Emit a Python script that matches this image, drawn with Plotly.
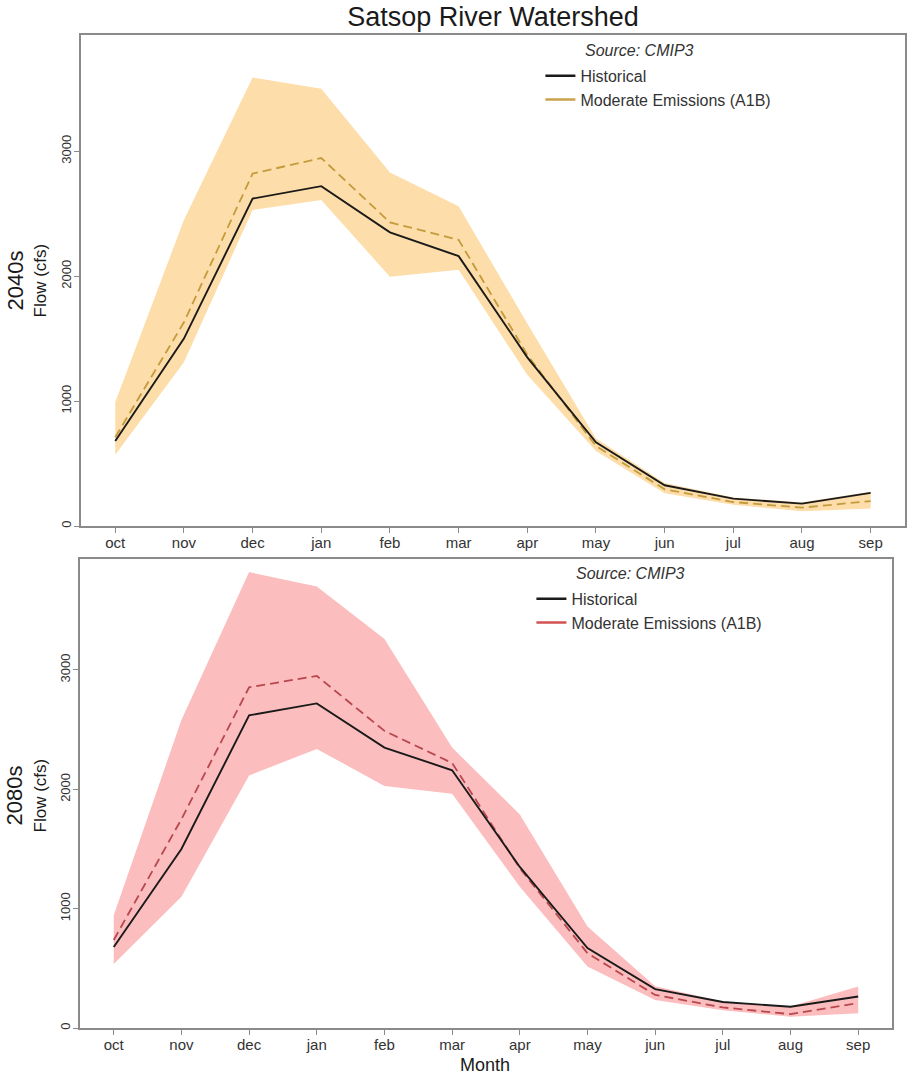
import plotly.graph_objects as go

# Monthly mean flow (cfs), water-year order
months = ["oct", "nov", "dec", "jan", "feb", "mar", "apr", "may", "jun", "jul", "aug", "sep"]

historical = [680, 1500, 2620, 2720, 2350, 2160, 1350, 670, 326, 219, 179, 265]

# 2040s, moderate emissions (A1B)
a1b_2040 = [710, 1630, 2820, 2945, 2430, 2290, 1370, 640, 294, 192, 147, 200]
a1b_2040_hi = [990, 2450, 3590, 3500, 2830, 2560, 1620, 700, 345, 228, 190, 275]
a1b_2040_lo = [570, 1310, 2530, 2610, 1995, 2050, 1210, 600, 262, 170, 118, 140]

# 2080s, moderate emissions (A1B)
a1b_2080 = [738, 1750, 2855, 2950, 2490, 2220, 1340, 627, 278, 173, 117, 209]
a1b_2080_hi = [946, 2580, 3820, 3700, 3260, 2350, 1790, 850, 350, 222, 180, 348]
a1b_2080_lo = [537, 1100, 2116, 2339, 2028, 1963, 1184, 515, 236, 150, 95, 125]

FONT = "Liberation Sans, Arial, Helvetica, sans-serif"
TXT = "#333333"
AX = "#8a8a8a"
W, H = 907, 1078


def px_x(p):
    return p / W


def px_y(p):
    return 1 - p / H


panels = [
    dict(hi=a1b_2040_hi, lo=a1b_2040_lo, mid=a1b_2040, fill="#FDDDA9",
         dash_col="#C49B3C", leg_col="#C9A24C", xa="x", ya="y", legend="legend"),
    dict(hi=a1b_2080_hi, lo=a1b_2080_lo, mid=a1b_2080, fill="#FBBDBD",
         dash_col="#B8474E", leg_col="#D24F52", xa="x2", ya="y2", legend="legend2"),
]

fig = go.Figure()
for p in panels:
    # projection range band
    fig.add_trace(go.Scatter(
        x=months + months[::-1], y=p["hi"] + p["lo"][::-1],
        fill="toself", fillcolor=p["fill"], line=dict(width=0),
        mode="lines", hoverinfo="skip", showlegend=False,
        xaxis=p["xa"], yaxis=p["ya"]))
    # projected mean
    fig.add_trace(go.Scatter(
        x=months, y=p["mid"], mode="lines",
        line=dict(color=p["dash_col"], width=1.8, dash="9px,5px"),
        showlegend=False, xaxis=p["xa"], yaxis=p["ya"]))
    # historical
    fig.add_trace(go.Scatter(
        x=months, y=historical, mode="lines",
        line=dict(color="#1a1a1a", width=1.9),
        showlegend=False, xaxis=p["xa"], yaxis=p["ya"]))
    # legend entries
    fig.add_trace(go.Scatter(
        x=[None], y=[None], mode="lines", name="Historical",
        line=dict(color="#1a1a1a", width=2.5),
        legend=p["legend"], xaxis=p["xa"], yaxis=p["ya"]))
    fig.add_trace(go.Scatter(
        x=[None], y=[None], mode="lines", name="Moderate Emissions (A1B)",
        line=dict(color=p["leg_col"], width=2.5),
        legend=p["legend"], xaxis=p["xa"], yaxis=p["ya"]))

xcommon = dict(
    type="category", categoryorder="array", categoryarray=months,
    range=[-0.5, 11.5], showline=True, linecolor=AX, linewidth=1.5, mirror=True,
    ticks="outside", ticklen=5, tickcolor=AX, tickwidth=1,
    ticklabelstandoff=-3,
    tickfont=dict(family=FONT, size=15, color=TXT),
    showgrid=False, zeroline=False, fixedrange=True)
ycommon = dict(
    range=[0, 3930], tickvals=[0, 1000, 2000, 3000], tickangle=-90,
    showline=True, linecolor=AX, linewidth=1.5, mirror=True,
    ticks="outside", ticklen=5, tickcolor=AX, tickwidth=1,
    ticklabelstandoff=-2,
    tickfont=dict(family=FONT, size=13, color=TXT),
    showgrid=False, zeroline=False, fixedrange=True)

legfont = dict(family=FONT, size=16, color=TXT)

fig.update_layout(
    width=W, height=H,
    margin=dict(l=0, r=0, t=0, b=0),
    paper_bgcolor="white", plot_bgcolor="white",
    font=dict(family=FONT, color=TXT),
    title=dict(text="Satsop River Watershed", x=px_x(493.5), xanchor="center",
               xref="paper", y=px_y(17), yanchor="middle", yref="paper",
               font=dict(family=FONT, size=27, color="#1a1a1a")),
    xaxis=dict(xcommon, domain=[px_x(81), px_x(906)], anchor="y"),
    yaxis=dict(ycommon, domain=[px_y(527), px_y(35)], anchor="x"),
    xaxis2=dict(xcommon, domain=[px_x(80), px_x(893)], anchor="y2"),
    yaxis2=dict(ycommon, domain=[px_y(1030), px_y(560)], anchor="x2"),
    legend=dict(x=px_x(541), y=px_y(59), xanchor="left", yanchor="top",
                bgcolor="rgba(0,0,0,0)", borderwidth=0, tracegroupgap=0,
                font=legfont),
    legend2=dict(x=px_x(532), y=px_y(583), xanchor="left", yanchor="top",
                 bgcolor="rgba(0,0,0,0)", borderwidth=0, tracegroupgap=0,
                 font=legfont),
    showlegend=True,
)

annotations = [
    dict(text="2040s", x=px_x(15), y=px_y(281), textangle=-90, font=dict(size=22, color="#1a1a1a")),
    dict(text="Flow (cfs)", x=px_x(41), y=px_y(281), textangle=-90, font=dict(size=17, color="#1a1a1a")),
    dict(text="2080s", x=px_x(15), y=px_y(797), textangle=-90, font=dict(size=22, color="#1a1a1a")),
    dict(text="Flow (cfs)", x=px_x(41), y=px_y(797), textangle=-90, font=dict(size=17, color="#1a1a1a")),
    dict(text="<i>Source: CMIP3</i>", x=px_x(584), y=px_y(51), xanchor="left", font=dict(size=16, color=TXT)),
    dict(text="<i>Source: CMIP3</i>", x=px_x(575), y=px_y(575), xanchor="left", font=dict(size=16, color=TXT)),
    dict(text="Month", x=px_x(486), y=px_y(1067), font=dict(size=18, color="#1a1a1a")),
]
for a in annotations:
    a.setdefault("xanchor", "center")
    a.update(xref="paper", yref="paper", yanchor="middle", showarrow=False)
    a["font"]["family"] = FONT
fig.update_layout(annotations=annotations)

fig.write_html("out.html", config={"displayModeBar": False})
